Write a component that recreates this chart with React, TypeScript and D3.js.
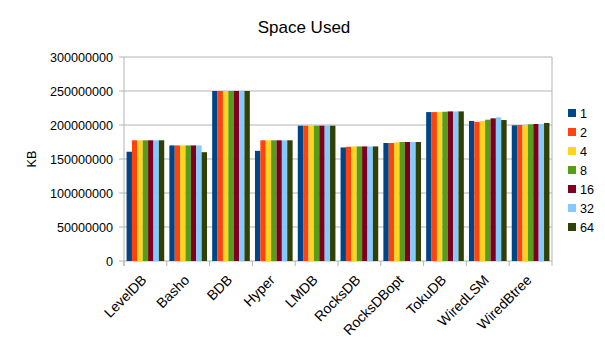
import React from "react";
import * as d3 from "d3";

const categories = ["LevelDB", "Basho", "BDB", "Hyper", "LMDB", "RocksDB", "RocksDBopt", "TokuDB", "WiredLSM", "WiredBtree"];
const seriesNames = ["1", "2", "4", "8", "16", "32", "64"];
const colors = ["#004586", "#ff420e", "#ffd320", "#579d1c", "#7e0021", "#83caff", "#314004"];

const s1 = [160700000, 170000000, 250000000, 162000000, 199000000, 167000000, 173500000, 219000000, 206000000, 199500000];
const s2 = [177500000, 170000000, 250000000, 177500000, 199000000, 168000000, 173500000, 219000000, 204400000, 200000000];
const s4 = [177500000, 170000000, 250000000, 177500000, 199000000, 168500000, 174500000, 219000000, 206000000, 200000000];
const s8 = [177500000, 170000000, 250000000, 177500000, 199000000, 168500000, 175000000, 219500000, 207800000, 201000000];
const s16 = [177500000, 170000000, 250000000, 177500000, 199000000, 168500000, 175000000, 220000000, 209800000, 201500000];
const s32 = [177500000, 170000000, 250000000, 177500000, 199000000, 168500000, 175000000, 220000000, 211300000, 201500000];
const s64 = [177500000, 160000000, 250000000, 177500000, 199000000, 168500000, 175000000, 220000000, 207300000, 203000000];
const series = [s1, s2, s4, s8, s16, s32, s64];
const yTicks = [0, 50000000, 100000000, 150000000, 200000000, 250000000, 300000000];

export default function App() {
  const W = 605, H = 340;
  const left = 124, right = 552, top = 57, bottom = 261;
  const x = d3.scaleBand<string>().domain(categories).range([left, right]).paddingInner(0.12).paddingOuter(0.06);
  const x0 = d3.scaleBand<string>().domain(categories).range([left, right]);
  const xs = d3.scaleBand<string>().domain(seriesNames).range([0, x.bandwidth()]);
  const y = d3.scaleLinear().domain([0, 300000000]).range([bottom, top]);
  const font = "'Liberation Sans', Arial, sans-serif";

  return (
    <svg width={W} height={H} style={{ position: "absolute", left: 0, top: 0, background: "#fff" }} fontFamily={font}>
      <rect x={0} y={0} width={W} height={H} fill="#fff" />
      <text x={304} y={33} textAnchor="middle" fontSize={17} fill="#000">Space Used</text>
      {yTicks.map((t) => (
        <g key={t}>
          <line x1={left - 5} x2={right} y1={y(t)} y2={y(t)} stroke="#b3b3b3" strokeWidth={1} />
          <text x={113} y={y(t) + 4.5} textAnchor="end" fontSize={12.6} fill="#000">{t}</text>
        </g>
      ))}
      <line x1={left} x2={left} y1={top} y2={bottom + 5} stroke="#b3b3b3" />
      <line x1={right} x2={right} y1={top} y2={bottom} stroke="#b3b3b3" />
      {categories.map((c, i) => (
        <line key={"t" + i} x1={x0(c)!} x2={x0(c)!} y1={bottom} y2={bottom + 5} stroke="#b3b3b3" />
      ))}
      <line x1={right} x2={right} y1={bottom} y2={bottom + 5} stroke="#b3b3b3" />
      {series.map((vals, si) => (
        <g key={si}>
          {categories.map((c, ci) => (
            <rect
              key={ci}
              x={x(c)! + xs(seriesNames[si])!}
              y={y(vals[ci])}
              width={xs.bandwidth()}
              height={bottom - y(vals[ci])}
              fill={colors[si]}
            />
          ))}
        </g>
      ))}
      <text transform={`translate(36,${(top + bottom) / 2}) rotate(-90)`} textAnchor="middle" fontSize={12.6} fill="#000">KB</text>
      {categories.map((c, i) => {
        const cx = x0(c)! + x0.bandwidth() / 2 + 2;
        return (
          <text key={"l" + i} transform={`translate(${cx},${bottom + 20}) rotate(-45)`} textAnchor="end" fontSize={14} fill="#000">{c}</text>
        );
      })}
      {seriesNames.map((s, i) => (
        <g key={"lg" + i}>
          <rect x={568} y={109 + i * 19} width={8} height={8} fill={colors[i]} />
          <text x={580} y={118 + i * 19} fontSize={12.6} fill="#000">{s}</text>
        </g>
      ))}
    </svg>
  );
}
